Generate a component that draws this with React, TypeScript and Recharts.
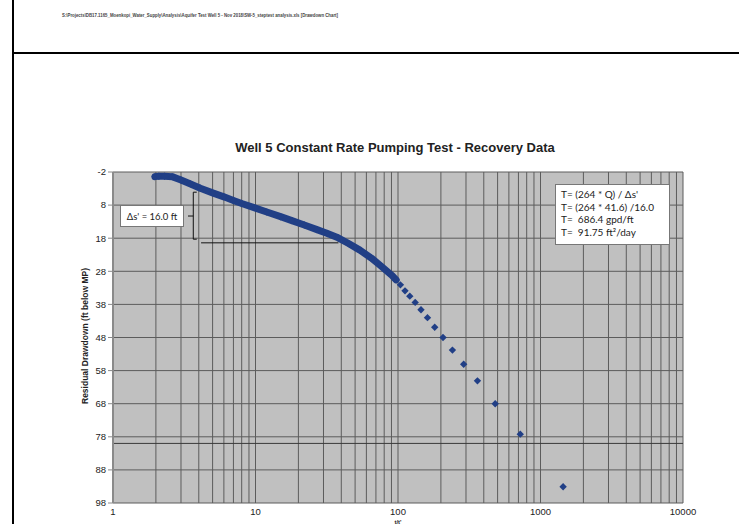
import React from 'react';
import {
    ScatterChart,
    Scatter,
    XAxis,
    YAxis,
    CartesianGrid,
    ReferenceLine,
} from 'recharts';

// dense early-time recovery readings (t/t', residual drawdown in ft)
const bandRatio = [1.97, 2.1, 2.3, 2.6, 3.0, 3.5, 4.1, 5, 6, 7, 8, 10, 12, 15, 18, 22, 27, 32, 38, 45, 54, 65, 75, 86, 91, 97];
const bandDrawdown = [-0.6, -0.7, -0.7, -0.6, 0.4, 1.6, 2.9, 4.3, 5.5, 6.6, 7.5, 8.9, 10.1, 11.5, 12.7, 14.0, 15.4, 16.6, 17.9, 19.6, 21.6, 24.0, 26.2, 28.4, 29.3, 30.6];

// late readings that plot as separate diamonds
const recoveryRatio = [104, 112, 121, 132, 145, 161, 181, 207, 241, 289, 361, 481, 721, 1441];
const recoveryDrawdown = [32.1, 33.9, 35.5, 37.4, 39.6, 42.0, 44.9, 48.0, 51.8, 56.1, 61.1, 68.0, 77.2, 93.1];

const xTicks = [
    1, 2, 3, 4, 5, 6, 7, 8, 9,
    10, 20, 30, 40, 50, 60, 70, 80, 90,
    100, 200, 300, 400, 500, 600, 700, 800, 900,
    1000, 2000, 3000, 4000, 5000, 6000, 7000, 8000, 9000,
    10000,
];
const xLabels = [1, 10, 100, 1000, 10000];
const yTicks = [-2, 8, 18, 28, 38, 48, 58, 68, 78, 88, 98];

const pumpLevel = 80;

const bandData = bandRatio.map((t, i) => ({ t, dd: bandDrawdown[i] }));
const recoveryData = recoveryRatio.map((t, i) => ({ t, dd: recoveryDrawdown[i] }));

const BLUE = '#213f86';
const FONT = '"Liberation Sans", Arial, sans-serif';
const NOTE_FONT = 'Lato, "Open Sans", sans-serif';

const Diamond = (props: any) => {
    const { cx, cy } = props;
    if (cx == null || cy == null) return null;
    const r = 3.7;
    return <path d={`M${cx},${cy - r}L${cx + r},${cy}L${cx},${cy + r}L${cx - r},${cy}Z`} fill={BLUE} />;
};

export default function App() {
    return (
        <div style={{ position: 'absolute', left: 0, top: 0, width: 739, height: 524, background: '#fff', overflow: 'hidden', fontFamily: FONT }}>
            <div style={{ position: 'absolute', left: 12, top: 0, width: 2, height: 524, background: '#000' }} />
            <div style={{ position: 'absolute', left: 12, top: 52, width: 727, height: 2, background: '#000' }} />

            <ScatterChart width={739} height={524} margin={{ top: 172, right: 56, bottom: 0, left: 0 }}>
                <CartesianGrid fill="#c0c0c0" fillOpacity={1} stroke="#5c5c5c" strokeWidth={1} />
                <XAxis
                    dataKey="t"
                    type="number"
                    scale="log"
                    domain={[1, 10000]}
                    ticks={xTicks}
                    allowDataOverflow
                    interval={0}
                    height={21}
                    axisLine={false}
                    tickLine={false}
                    tickSize={3}
                    tick={{ fill: '#222', fontSize: 9.5, fontFamily: FONT }}
                    tickFormatter={(v: number) => (xLabels.includes(v) ? String(v) : '')}
                />
                <YAxis
                    dataKey="dd"
                    type="number"
                    reversed
                    domain={[-2, 98]}
                    ticks={yTicks}
                    interval={0}
                    width={113}
                    allowDataOverflow
                    axisLine={{ stroke: '#8a8a8a', strokeWidth: 2 }}
                    tickLine={{ stroke: '#8a8a8a' }}
                    tickSize={5}
                    tick={{ fill: '#222', fontSize: 9.5, fontFamily: FONT }}
                />
                <ReferenceLine y={pumpLevel} stroke="#3a3a3a" strokeWidth={1} />
                <ReferenceLine segment={[{ x: 4.15, y: 19.4 }, { x: 38.2, y: 19.4 }]} stroke="#111" strokeWidth={1} />
                <ReferenceLine segment={[{ x: 3.66, y: 4.1 }, { x: 3.66, y: 18.3 }]} stroke="#111" strokeWidth={1} />
                <ReferenceLine segment={[{ x: 3.66, y: 4.1 }, { x: 3.87, y: 4.1 }]} stroke="#111" strokeWidth={1} />
                <ReferenceLine segment={[{ x: 3.66, y: 18.3 }, { x: 3.87, y: 18.3 }]} stroke="#111" strokeWidth={1} />
                <ReferenceLine segment={[{ x: 3.36, y: 11.3 }, { x: 3.66, y: 11.3 }]} stroke="#111" strokeWidth={1} />
                <Scatter
                    data={bandData}
                    shape={<Diamond />}
                    line={{ stroke: BLUE, strokeWidth: 7, strokeLinejoin: 'round', strokeLinecap: 'round' }}
                    isAnimationActive={false}
                />
                <Scatter data={recoveryData} shape={<Diamond />} isAnimationActive={false} />
            </ScatterChart>

            <svg width={739} height={524} style={{ position: 'absolute', left: 0, top: 0, pointerEvents: 'none' }}>
                <text x={62} y={17} fontSize={4.6} fontWeight="bold" fill="#444" textLength={276} lengthAdjust="spacingAndGlyphs">
                    S:\Projects\DB17.1165_Moenkopi_Water_Supply\Analysis\Aquifer Test Well 5 - Nov 2018\SW-5_steptest analysis.xls [Drawdown Chart]
                </text>
                <text x={395} y={152} fontSize={13} fontWeight="bold" fill="#222" textAnchor="middle">
                    Well 5 Constant Rate Pumping Test - Recovery Data
                </text>
                <text x={0} y={0} fontSize={8.5} fontWeight="bold" fill="#222" textAnchor="middle" transform="translate(88 336) rotate(-90)">
                    Residual Drawdown (ft below MP)
                </text>
                <text x={398} y={524} fontSize={6} fontWeight="bold" fill="#222" textAnchor="middle">
                    t/t'
                </text>
            </svg>

            <div style={{ position: 'absolute', left: 120, top: 205, width: 64, height: 22, boxSizing: 'border-box', background: '#fff', border: '1px solid #777', fontFamily: NOTE_FONT, fontSize: 9.5, color: '#222', display: 'flex', alignItems: 'center', justifyContent: 'center' }}>
                Δs' = 16.0 ft
            </div>
            <div style={{ position: 'absolute', left: 555, top: 184, width: 115, height: 61, boxSizing: 'border-box', background: '#fff', border: '1px solid #777', fontFamily: NOTE_FONT, fontSize: 10, lineHeight: '12.7px', color: '#222', padding: '3px 0 0 5px', whiteSpace: 'pre' }}>
                <div>T= (264 * Q) / Δs'</div>
                <div>T= (264 * 41.6) /16.0</div>
                <div>T=  686.4 gpd/ft</div>
                <div>T=  91.75 ft²/day</div>
            </div>
        </div>
    );
}
